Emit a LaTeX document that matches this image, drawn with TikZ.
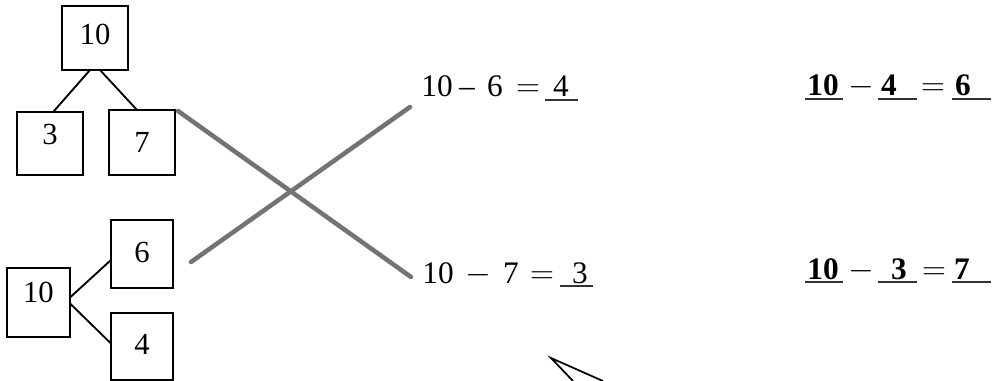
\documentclass[tikz,border=0pt]{standalone}
\usepackage{fontspec}
\setmainfont{Liberation Serif}
\usetikzlibrary{calc}
\begin{document}
\begin{tikzpicture}[x=0.75pt,y=-0.75pt,
  box/.style={draw, line width=1.8pt, inner sep=0pt, outer sep=0pt,
    font=\fontsize{23}{27}\selectfont},
  tree/.style={line width=1.4pt},
  cross/.style={line width=3.4pt, draw=black!55, line cap=round},
  num/.style={inner sep=0pt, anchor=base, font=\fontsize{23.5}{27}\selectfont},
  bnum/.style={num, font=\fontsize{23.5}{27}\selectfont\bfseries},
  uline/.style={line width=0.9pt, black!80}]
\useasboundingbox (0,0) rectangle (993,381);

% top number bond
\node[box, minimum width=49.5pt, minimum height=48pt, text depth=6pt] (t10) at (95,38) {10};
\node[box, minimum width=49.5pt, minimum height=47pt, text depth=14pt] (b3) at (50,143.5) {3};
\node[box, minimum width=49.5pt, minimum height=48.75pt] (b7) at (142,142.5) {7};
\draw[tree] ($(t10.south)+(-5,0)$) -- ($(b3.north)+(3,0)$);
\draw[tree] ($(t10.south)+(5,0)$) -- ($(b7.north)+(-5,0)$);

% bottom number bond
\node[box, minimum width=46.5pt, minimum height=51pt, text depth=3pt] (b6) at (142,254) {6};
\node[box, minimum width=47.25pt, minimum height=51.75pt, text depth=15pt] (l10) at (38.5,302.5) {10};
\node[box, minimum width=46.5pt, minimum height=50.25pt, text depth=3pt] (b4) at (142,346.5) {4};
\draw[tree] ($(l10.east)+(0,-5)$) -- ($(b6.west)+(0,6)$);
\draw[tree] ($(l10.east)+(0,1)$) -- ($(b4.west)+(0,-3)$);

% left equations
\node[num] (a10) at (437,97) {10};
\node[num] (am) at (467,97) {–};
\node[num] (a6) at (495,97) {6};
\node[num] (ae) at (528,97) {$=$};
\node[num] (a4) at (561,97) {4};
\draw[uline] ($(a4.base)+(-16,3)$) -- ($(a4.base)+(17,3)$);

\node[num] (c10) at (438,283) {10};
\node[num] (cm) at (478,283) {$-$};
\node[num] (c7) at (511,283) {7};
\node[num] (ce) at (542,283) {$=$};
\node[num] (c3) at (580,283) {3};
\draw[uline] ($(c3.base)+(-20,3)$) -- ($(c3.base)+(13,3)$);

% right equations
\node[bnum] (r10) at (823,96) {10};
\node[num] (rm) at (861,96) {$-$};
\node[bnum] (r4) at (889,96) {4};
\node[num] (re) at (933,96) {$=$};
\node[bnum] (r6) at (963,96) {6};
\draw[uline] ($(r10.base)+(-18,3)$) -- ($(r10.base)+(20,3)$);
\draw[uline] ($(r4.base)+(-11,3)$) -- ($(r4.base)+(28,3)$);
\draw[uline] ($(r6.base)+(-11,3)$) -- ($(r6.base)+(28,3)$);

\node[bnum] (s10) at (823,279) {10};
\node[num] (sm) at (861,279) {$-$};
\node[bnum] (s3) at (899,279) {3};
\node[num] (se) at (934,279) {$=$};
\node[bnum] (s7) at (962,279) {7};
\draw[uline] ($(s10.base)+(-18,3)$) -- ($(s10.base)+(20,3)$);
\draw[uline] ($(s3.base)+(-21,3)$) -- ($(s3.base)+(18,3)$);
\draw[uline] ($(s7.base)+(-10,3)$) -- ($(s7.base)+(29,3)$);

% crossing connectors
\coordinate (x1s) at (178,111);
\coordinate (x1e) at (411,277);
\coordinate (x2s) at (191,262);
\coordinate (x2e) at (410,107);
\draw[cross] (x1s) -- (x1e);
\draw[cross] (x2s) -- (x2e);

% partial arrow mark at bottom
\coordinate (v) at (551,358);
\coordinate (p1) at (603,381);
\coordinate (p2) at (573,381);
\draw[line width=1.3pt] (p1) -- (v) -- (p2);
\end{tikzpicture}
\end{document}
